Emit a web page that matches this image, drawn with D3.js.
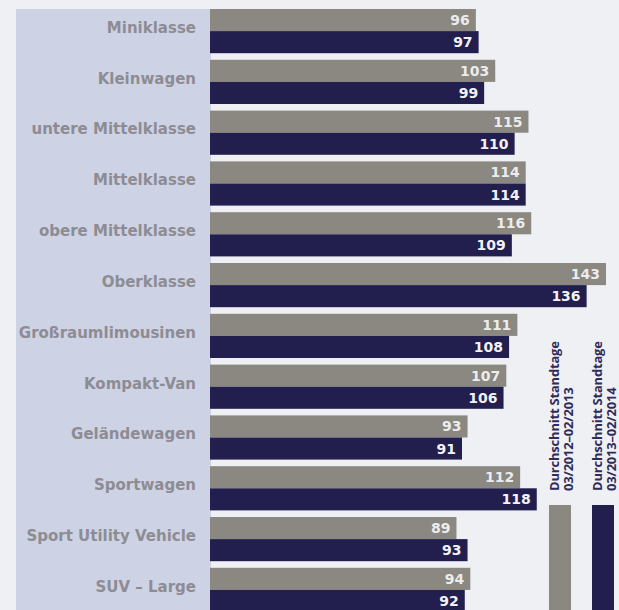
<!DOCTYPE html>
<html>
<head>
<meta charset="utf-8">
<script src="https://cdn.jsdelivr.net/npm/d3@7"></script>
<style>
  html, body { margin: 0; padding: 0; background: #eff0f3; }
  svg { display: block; }
</style>
</head>
<body>
<svg id="chart" width="619" height="610"></svg>
<script>
const categories = ["Miniklasse", "Kleinwagen", "untere Mittelklasse", "Mittelklasse",
  "obere Mittelklasse", "Oberklasse", "Großraumlimousinen", "Kompakt-Van",
  "Geländewagen", "Sportwagen", "Sport Utility Vehicle", "SUV – Large"];
const series2013 = [96, 103, 115, 114, 116, 143, 111, 107, 93, 112, 89, 94];
const series2014 = [97, 99, 110, 114, 109, 136, 108, 106, 91, 118, 93, 92];
const seriesNames = ["s2013", "s2014"];
const legendLines = [
  ["Durchschnitt Standtage", "03/2012–02/2013"],
  ["Durchschnitt Standtage", "03/2013–02/2014"]
];
const colors = { s2013: "#8b8781", s2014: "#221f4e" };

const svg = d3.select("#chart");
const W = 619, H = 610;

// label panel
svg.append("rect").attr("x", 16).attr("y", 9).attr("width", 195).attr("height", H - 9)
  .attr("fill", "#cdd2e5");

const x = d3.scaleLinear().domain([0, 143]).range([210, 606]);
const y = d3.scaleBand().domain(categories).range([9, 612]).paddingInner(0.13).paddingOuter(0);
const ys = d3.scaleBand().domain(seriesNames).range([0, y.bandwidth()]).padding(0);

const rows = categories.map((c, i) => ({ cat: c, s2013: series2013[i], s2014: series2014[i] }));

const g = svg.append("g");
const grp = g.selectAll("g.row").data(rows).join("g")
  .attr("class", "row")
  .attr("transform", d => `translate(0,${y(d.cat)})`);

grp.selectAll("rect").data(d => seriesNames.map(k => ({ k, v: d[k] }))).join("rect")
  .attr("x", x(0))
  .attr("y", d => ys(d.k))
  .attr("width", d => x(d.v) - x(0))
  .attr("height", ys.bandwidth())
  .attr("fill", d => colors[d.k]);

grp.selectAll("text.val").data(d => seriesNames.map(k => ({ k, v: d[k] }))).join("text")
  .attr("class", "val")
  .attr("x", d => x(d.v) - 6)
  .attr("y", d => ys(d.k) + ys.bandwidth() / 2)
  .attr("dy", "0.36em")
  .attr("text-anchor", "end")
  .attr("font-family", "DejaVu Sans, Verdana, sans-serif")
  .attr("font-weight", "bold")
  .attr("font-size", 14)
  .attr("fill", d => d.k === "s2013" ? "#ececec" : "#f2f2f6")
  .text(d => d.v);

// category labels
svg.append("g").selectAll("text").data(categories).join("text")
  .attr("x", 196)
  .attr("y", d => y(d) + y.bandwidth() / 2)
  .attr("dy", "0.12em")
  .attr("text-anchor", "end")
  .attr("font-family", "DejaVu Sans, Verdana, sans-serif")
  .attr("font-weight", "bold")
  .attr("font-size", 15)
  .attr("fill", "#8d8c93")
  .text(d => d);

// legend
const legend = svg.append("g");
const legX = [549, 592];
seriesNames.forEach((k, i) => {
  legend.append("rect").attr("x", legX[i]).attr("y", 505).attr("width", 22).attr("height", H - 505)
    .attr("fill", colors[k]);
  const t = legend.append("text")
    .attr("transform", `translate(${legX[i] + 10},491) rotate(-90)`)
    .attr("font-family", "Open Sans, sans-serif")
    .attr("font-weight", "bold")
    .attr("font-size", 13)
    .attr("letter-spacing", -0.2)
    .attr("fill", "#2f2b5a");
  legendLines[i].forEach((line, j) => {
    t.append("tspan").attr("x", 0).attr("y", j * 13.5).text(line);
  });
});
</script>
</body>
</html>
